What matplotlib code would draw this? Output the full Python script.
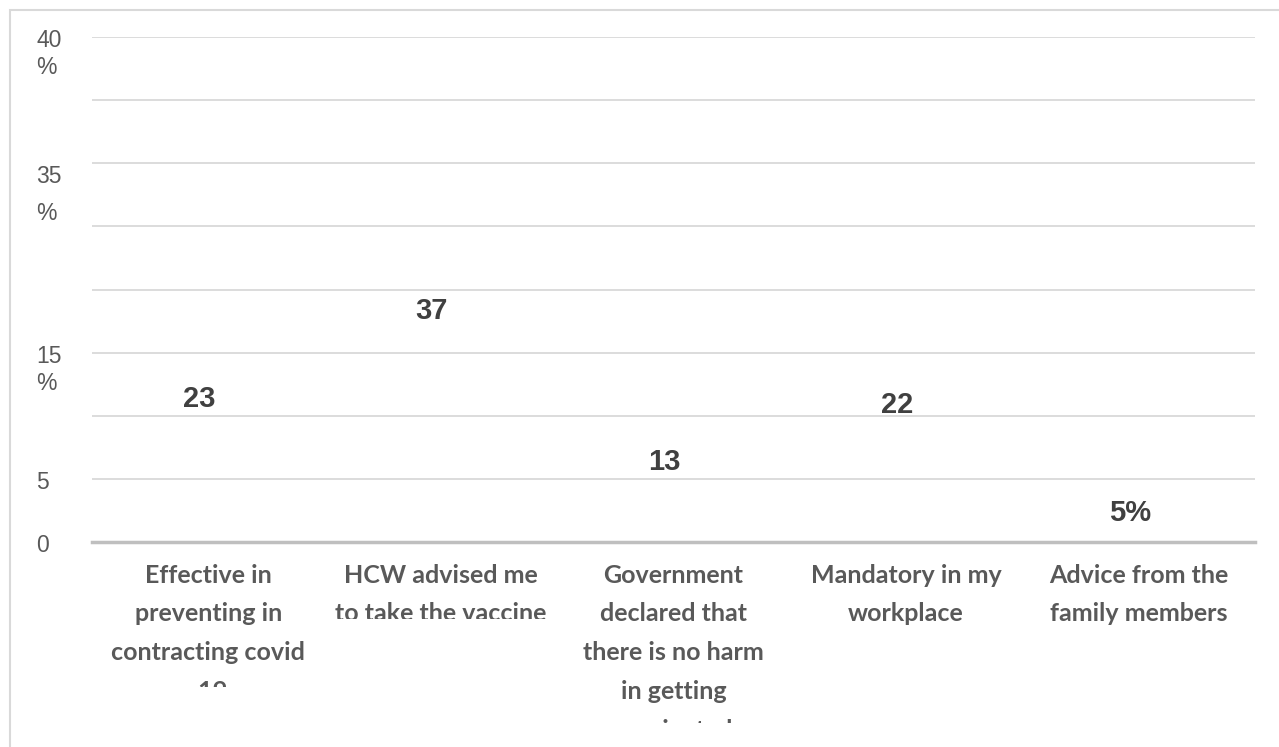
import matplotlib
matplotlib.use("Agg")
import matplotlib.pyplot as plt
import matplotlib.transforms as mtrans
from matplotlib.patches import Rectangle

categories = [
    "Effective in\npreventing in\ncontracting covid\n-19",
    "HCW advised me\nto take the vaccine",
    "Government\ndeclared that\nthere is no harm\nin getting\nvaccinated",
    "Mandatory in my\nworkplace",
    "Advice from the\nfamily members",
]
values = [23, 37, 13, 22, 5]
value_labels = ["23", "37", "13", "22", "5%"]
ytick_vals = [0, 5, 10, 15, 20, 25, 30, 35, 40]
ytick_text = ["0", "5", "", "15\n%", "", "", "35\n%", "", "40\n%"]
# bottom edge (px from top) where each category label is cut off in the original
label_cut = [687, 619, 723, 747, 747]

W, H = 1279, 747
fig = plt.figure(figsize=(W / 100, H / 100), dpi=100)
ax = fig.add_axes([92 / W, 1 - 542 / H, (1255 - 92) / W, (542 - 37) / H])

x = list(range(len(categories)))
bars = ax.bar(x, values, width=0.55, color="none")
anns = ax.bar_label(bars, labels=value_labels, label_type="center",
                    fontsize=21, color="#404040", family="Liberation Sans", fontweight="bold")
for a in anns:
    a.xyann = (-6.5, -1.5)

ax.set_xlim(-0.5, len(categories) - 0.5)
ax.set_ylim(0, 40)
ax.set_yticks(ytick_vals)
ax.set_yticklabels(ytick_text)
ax.yaxis.grid(True, color="#d9d9d9", linewidth=1.3)
ax.set_axisbelow(True)
for s in ["top", "right", "left"]:
    ax.spines[s].set_visible(False)
ax.spines["bottom"].set_color("#bfbfbf")
ax.spines["bottom"].set_linewidth(2.5)

ax.tick_params(axis="y", length=0, pad=40, labelsize=16.5, labelcolor="#595959")
ax.tick_params(axis="x", length=0, pad=15.5)
for lab in ax.get_yticklabels():
    lab.set_ha("left")
    lab.set_va("top")
    lab.set_family("Liberation Sans")
    lab.set_linespacing(1.25)
    lab.set_transform(lab.get_transform() + mtrans.ScaledTranslation(0, 8 / 100, fig.dpi_scale_trans))
# the 35 % label sits lower with looser spacing
lab35 = ax.get_yticklabels()[6]
lab35.set_linespacing(1.75)
lab35.set_transform(lab35.get_transform() + mtrans.ScaledTranslation(0, -10 / 100, fig.dpi_scale_trans))

ax.set_xticks(x)
ax.set_xticklabels(categories, fontsize=18, color="#595959", family="Lato",
                   fontweight="bold", linespacing=1.83)
for lab, cut in zip(ax.get_xticklabels(), label_cut):
    lab.set_clip_box(mtrans.Bbox([[0, H - cut], [W, H]]))
    lab.set_clip_on(True)

fig.patches.append(Rectangle((10 / W, -0.1), 2, 1 - 10 / H + 0.1, transform=fig.transFigure,
                             fill=False, edgecolor="#d9d9d9", linewidth=1.5))

fig.savefig("out.png", dpi=100)
